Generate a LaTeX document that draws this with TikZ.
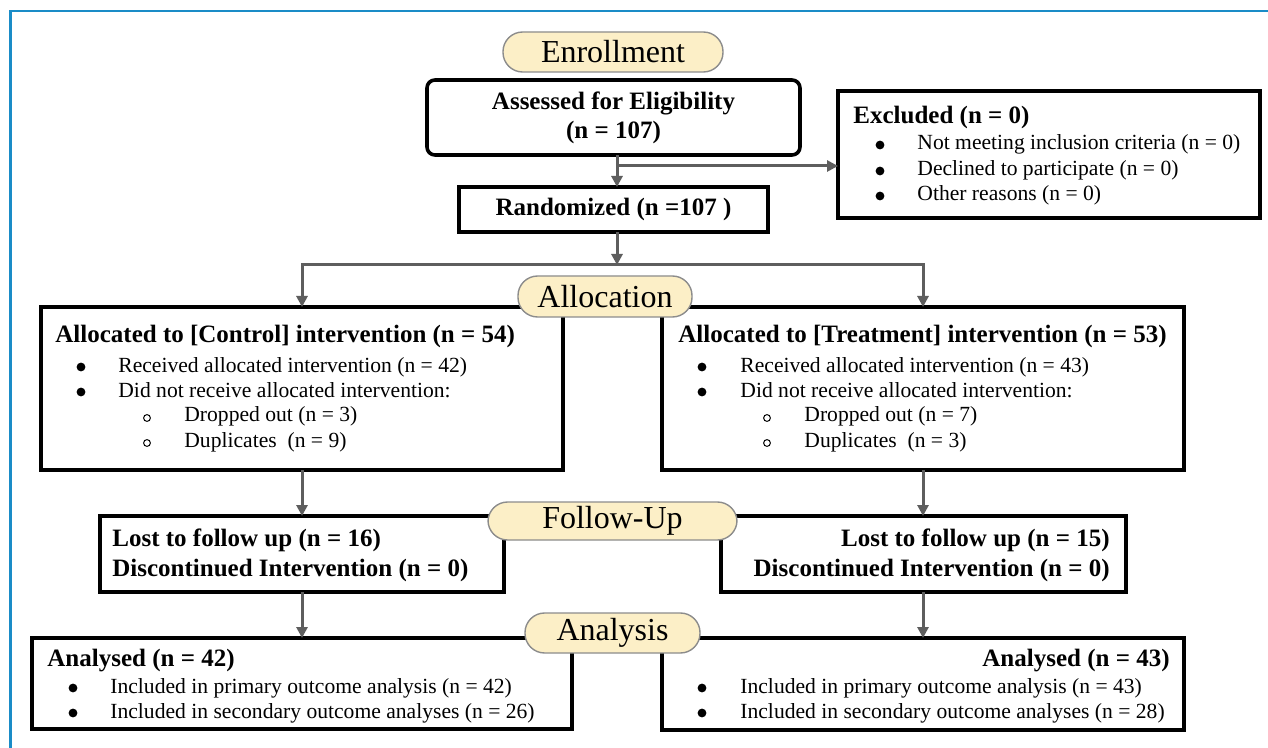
\documentclass[tikz,border=0pt]{standalone}
\usepackage{fontspec}
\setmainfont{Liberation Serif}
\usetikzlibrary{arrows.meta}
\definecolor{frameblue}{HTML}{1A8CC7}
\definecolor{pillfill}{HTML}{FCEFC7}
\definecolor{pillline}{HTML}{8C8C8C}
\definecolor{arrowgray}{HTML}{5E5E5E}
\begin{document}
\begin{tikzpicture}[x=0.5pt,y=-0.5pt,
  box/.style={draw=black, line width=1.8pt, inner sep=0pt, outer sep=0pt, rectangle},
  pill/.style={draw=pillline, fill=pillfill, line width=0.7pt, rectangle, rounded corners=9.8pt, inner sep=0pt, font=\fontsize{16}{19}\selectfont},
  arr/.style={draw=arrowgray, line width=1.5pt, -{Triangle[length=5.5pt,width=5.5pt]}},
  tb/.style={font=\fontsize{12.5}{14.5}\selectfont\bfseries, inner sep=0pt, text height=8.6pt, text depth=2.9pt},
  tn/.style={font=\fontsize{10.8}{13}\selectfont, inner sep=0pt, text height=7.5pt, text depth=2.5pt},
  dot/.style={fill=black},
  ring/.style={draw=black, line width=0.5pt}
]
\fill[white] (0,0) rectangle (1268,748);
\useasboundingbox (0,0) rectangle (1268,748);
\draw[frameblue, line width=1.1pt] (10.5,748) -- (10.5,11) -- (1268,11);

% Enrollment
\node[box, rounded corners=4pt, minimum width=186.5pt, minimum height=37.5pt, align=center, font=\fontsize{12.5}{14.5}\selectfont\bfseries] (ass) at (613.5,117.5) {Assessed for Eligibility\\(n = 107)};
\node[box, minimum width=154.5pt, minimum height=22.5pt, font=\fontsize{12.5}{14.5}\selectfont\bfseries] (rnd) at (613.5,209.5) {Randomized (n =107 )};

\node[box, minimum width=211pt, minimum height=63.5pt] (exc) at (1049,154.5) {};
\node[tb, anchor=west] (excT) at (853,118) {Excluded (n = 0)};
\node[tn, anchor=west] (exc1) at (917,145) {Not meeting inclusion criteria (n = 0)};
\node[tn, anchor=west] (exc2) at (917,171) {Declined to participate (n = 0)};
\node[tn, anchor=west] (exc3) at (917,196) {Other reasons (n = 0)};
\fill[dot] (880,145) circle (2.2pt);
\fill[dot] (880,171) circle (2.2pt);
\fill[dot] (880,196) circle (2.2pt);

% Allocation boxes
\node[box, minimum width=261pt, minimum height=81.5pt] (ctrl) at (302,388.5) {};
\node[tb, anchor=west] (ctrlT) at (55,337) {Allocated to [Control] intervention (n = 54)};
\node[tn, anchor=west] (ctrl1) at (118,367) {Received allocated intervention (n = 42)};
\node[tn, anchor=west] (ctrl2) at (118,392) {Did not receive allocated intervention:};
\node[tn, anchor=west] (ctrl3) at (184,417) {Dropped out (n = 3)};
\node[tn, anchor=west] (ctrl4) at (184,442) {Duplicates\ \ (n = 9)};
\fill[dot] (81,367) circle (2.2pt);
\fill[dot] (81,392) circle (2.2pt);
\draw[ring] (147,418) circle (1.7pt);
\draw[ring] (147,443) circle (1.7pt);

\node[box, minimum width=261pt, minimum height=81.5pt] (trt) at (923,388.5) {};
\node[tb, anchor=west] (trtT) at (678,337) {Allocated to [Treatment] intervention (n = 53)};
\node[tn, anchor=west] (trt1) at (740,367) {Received allocated intervention (n = 43)};
\node[tn, anchor=west] (trt2) at (740,392) {Did not receive allocated intervention:};
\node[tn, anchor=west] (trt3) at (804,417) {Dropped out (n = 7)};
\node[tn, anchor=west] (trt4) at (804,442) {Duplicates\ \ (n = 3)};
\fill[dot] (702,367) circle (2.2pt);
\fill[dot] (702,392) circle (2.2pt);
\draw[ring] (767,418) circle (1.7pt);
\draw[ring] (767,443) circle (1.7pt);

% Follow-up boxes
\node[box, minimum width=202pt, minimum height=38pt] (lostL) at (302,554) {};
\node[tb, anchor=west] (lostL1) at (112,541) {Lost to follow up (n = 16)};
\node[tb, anchor=west] (lostL2) at (112,571) {Discontinued Intervention (n = 0)};

\node[box, minimum width=202.5pt, minimum height=38pt] (lostR) at (923.5,554) {};
\node[tb, anchor=east] (lostR1) at (1110,541) {Lost to follow up (n = 15)};
\node[tb, anchor=east] (lostR2) at (1110,571) {Discontinued Intervention (n = 0)};

% Analysis boxes
\node[box, minimum width=270pt, minimum height=45.5pt] (anaL) at (302,683.5) {};
\node[tb, anchor=west] (anaLT) at (47,661) {Analysed (n = 42)};
\node[tn, anchor=west] (anaL1) at (110,688) {Included in primary outcome analysis (n = 42)};
\node[tn, anchor=west] (anaL2) at (110,713) {Included in secondary outcome analyses (n = 26)};
\fill[dot] (73,688) circle (2.2pt);
\fill[dot] (73,713) circle (2.2pt);

\node[box, minimum width=261pt, minimum height=46pt] (anaR) at (923,684) {};
\node[tb, anchor=east] (anaRT) at (1170,661) {Analysed (n = 43)};
\node[tn, anchor=west] (anaR1) at (740,688) {Included in primary outcome analysis (n = 43)};
\node[tn, anchor=west] (anaR2) at (740,713) {Included in secondary outcome analyses (n = 28)};
\fill[dot] (702,688) circle (2.2pt);
\fill[dot] (702,713) circle (2.2pt);

% connectors
\coordinate (spine) at (617,0);
\coordinate (br) at (617,166);
\coordinate (split) at (617,265);
\draw[arr] (ass.south -| spine) -- (rnd.north -| spine);
\draw[arr] (br) -- (br -| exc.west);
\draw[arr] (rnd.south -| spine) -- (split);
\draw[arr] (split) -| (ctrl.north);
\draw[arr] (split) -| (trt.north);
\draw[arr] (ctrl.south) -- (ctrl.south |- lostL.north);
\draw[arr] (trt.south) -- (trt.south |- lostR.north);
\draw[arr] (lostL.south -| ctrl.south) -- (ctrl.south |- anaL.north);
\draw[arr] (lostR.south -| trt.south) -- (trt.south |- anaR.north);

% stage pills
\node[pill, minimum width=110pt, minimum height=20pt] (enr) at (613,52) {Enrollment};
\node[pill, minimum width=87pt, minimum height=20.5pt] (alloc) at (605,296.5) {Allocation};
\node[pill, minimum width=124.5pt, minimum height=19pt] (fup) at (612.5,521) {Follow-Up};
\node[pill, minimum width=87.5pt, minimum height=20pt] (anal) at (612.5,633) {Analysis};
\end{tikzpicture}
\end{document}
